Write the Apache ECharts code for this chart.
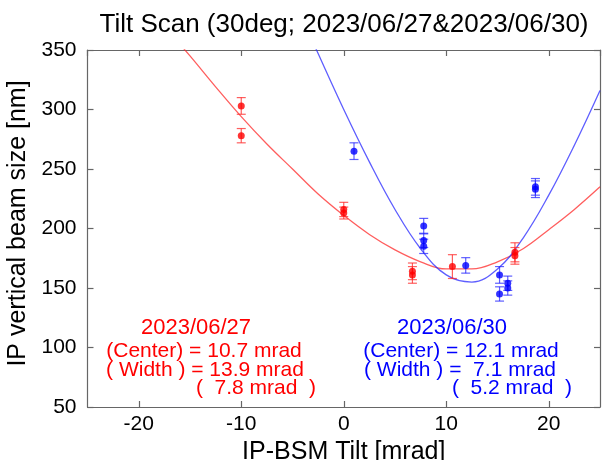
<!DOCTYPE html>
<html>
<head>
<meta charset="utf-8">
<script src="https://cdn.jsdelivr.net/npm/echarts@6/dist/echarts.min.js"></script>
<style>
html,body{margin:0;padding:0;background:#fff;}
#chart{width:602px;height:460px;}
</style>
</head>
<body>
<div id="chart"></div>
<script>
// ---- data ----
const titleText = 'Tilt Scan (30deg; 2023/06/27&2023/06/30)';
const xAxisTitle = 'IP-BSM Tilt [mrad]';
const yAxisTitle = 'IP vertical beam size [nm]';

// 2023/06/27 (red) measurements
const redX   = [-10, -10, 0, 0, 6.7, 6.7, 10.6, 16.7, 16.7];
const redY   = [303, 278, 216, 213, 164, 161, 168, 180, 177];
const redErr = [7, 6, 6, 5, 7, 7, 10, 8, 7];

// 2023/06/30 (blue) measurements
const blueX   = [1.0, 7.8, 7.8, 7.8, 11.9, 15.2, 15.2, 16.0, 16.0, 18.7, 18.7];
const blueY   = [265, 202, 190, 185, 169, 161, 145, 154, 150, 235, 233];
const blueErr = [7, 6.5, 6, 6, 6.5, 7, 6, 6, 6, 7, 7];

// fit curves
const redFitX  = [-17.5, -15, -12.5, -10, -7.5, -5, -2.5, 0, 2.5, 5, 7.5, 10, 12.5, 15, 17.5, 20, 22.5, 25];
const redFitY  = [370, 345, 319, 294, 271, 250, 229, 211, 195, 182, 172, 166, 166, 172, 183, 199, 216, 235];
const blueFitX = [-5, -2.5, 0, 2.5, 5, 7.5, 10, 12.5, 15, 17.5, 20, 22.5, 25];
const blueFitY = [395, 347, 300, 256, 216, 183, 161, 155, 166, 192, 228, 270, 316];

// annotation text
const redNotes  = ['2023/06/27', '(Center) = 10.7 mrad', '( Width ) = 13.9 mrad', '(  7.8 mrad  )'];
const blueNotes = ['2023/06/30', '(Center) = 12.1 mrad', '( Width ) =  7.1 mrad', '(  5.2 mrad  )'];

const xTicks = [-20, -10, 0, 10, 20];

// ---- chart ----
const FONT = '"Liberation Sans", Arial, Helvetica, sans-serif';
const RED = '#ff0000', RED_L = 'rgba(255,40,40,0.75)';
const BLUE = '#0000ff', BLUE_L = 'rgba(40,40,255,0.75)';
const AX = '#666';

function zip(a, b) { return a.map((v, i) => [v, b[i]]); }
function errData(x, y, e) { return x.map((v, i) => [v, y[i], e[i]]); }

function errRender(color) {
  return function (params, api) {
    const x = api.value(0), y = api.value(1), e = api.value(2);
    const lo = api.coord([x, y - e]);
    const hi = api.coord([x, y + e]);
    const w = 4.5;
    const st = { stroke: color, lineWidth: 1.2 };
    return {
      type: 'group',
      children: [
        { type: 'line', shape: { x1: lo[0], y1: lo[1], x2: hi[0], y2: hi[1] }, style: st },
        { type: 'line', shape: { x1: lo[0] - w, y1: lo[1], x2: lo[0] + w, y2: lo[1] }, style: st },
        { type: 'line', shape: { x1: hi[0] - w, y1: hi[1], x2: hi[0] + w, y2: hi[1] }, style: st }
      ]
    };
  };
}

function noteTexts(lines, centers, ys, color, sizes) {
  return lines.map((t, i) => ({
    type: 'text',
    x: centers[i], y: ys[i],
    style: {
      text: t, fill: color, fontSize: sizes[i], fontFamily: FONT,
      align: 'center', verticalAlign: 'middle'
    }
  }));
}

const noteYs = [328, 351, 370, 388];
const noteSizes = [22, 21, 21, 21];

const chart = echarts.init(document.getElementById('chart'), null, { renderer: 'canvas' });

const frameAxisX = (pos) => ({
  type: 'value', position: pos, min: -25, max: 25,
  axisLine: { show: true, onZero: false, lineStyle: { color: AX, width: 1.2 } },
  axisTick: { show: true, inside: true, length: 6, lineStyle: { color: AX, width: 1.2 } },
  splitLine: { show: false },
  axisLabel: {
    show: pos === 'bottom', margin: 7, color: '#000', fontSize: 21, fontFamily: FONT,
    showMinLabel: false, showMaxLabel: false,
    formatter: (v) => xTicks.indexOf(v) >= 0 ? String(v) : ''
  }
});

const frameAxisY = (pos) => ({
  type: 'value', position: pos, min: 50, max: 350, interval: 50,
  axisLine: { show: true, onZero: false, lineStyle: { color: AX, width: 1.2 } },
  axisTick: { show: true, inside: true, length: 6, lineStyle: { color: AX, width: 1.2 } },
  splitLine: { show: false },
  axisLabel: { show: pos === 'left', margin: 11, color: '#000', fontSize: 21, fontFamily: FONT }
});

const xBottom = frameAxisX('bottom');
xBottom.name = xAxisTitle;
xBottom.nameLocation = 'middle';
xBottom.nameGap = 31;
xBottom.nameTextStyle = { color: '#000', fontSize: 25, fontFamily: FONT };

const yLeft = frameAxisY('left');
yLeft.name = yAxisTitle;
yLeft.nameLocation = 'middle';
yLeft.nameGap = 52;
yLeft.nameTextStyle = { color: '#000', fontSize: 25, fontFamily: FONT, padding: [0, 0, 0, 10] };

const option = {
  animation: false,
  backgroundColor: '#fff',
  title: {
    text: titleText, left: 344, top: 12, padding: 0, textAlign: 'center',
    textStyle: { color: '#000', fontSize: 26, fontWeight: 'normal', fontFamily: FONT }
  },
  grid: { left: 87.5, right: 2, top: 50, bottom: 53, containLabel: false, outerBoundsMode: 'none' },
  xAxis: [xBottom, frameAxisX('top')],
  yAxis: [yLeft, frameAxisY('right')],
  series: [
    {
      name: 'fit 06/27', type: 'line', data: zip(redFitX, redFitY), smooth: 0.4,
      showSymbol: false, clip: true, lineStyle: { color: RED_L, width: 1.3 }, z: 2
    },
    {
      name: 'fit 06/30', type: 'line', data: zip(blueFitX, blueFitY), smooth: 0.4,
      showSymbol: false, clip: true, lineStyle: { color: BLUE_L, width: 1.3 }, z: 2
    },
    {
      name: 'err 06/27', type: 'custom', renderItem: errRender(RED_L),
      data: errData(redX, redY, redErr), encode: { x: 0, y: 1 }, z: 3
    },
    {
      name: 'err 06/30', type: 'custom', renderItem: errRender(BLUE_L),
      data: errData(blueX, blueY, blueErr), encode: { x: 0, y: 1 }, z: 3
    },
    {
      name: '2023/06/27', type: 'scatter', data: zip(redX, redY), symbolSize: 7,
      itemStyle: { color: RED }, z: 4
    },
    {
      name: '2023/06/30', type: 'scatter', data: zip(blueX, blueY), symbolSize: 7,
      itemStyle: { color: BLUE }, z: 4
    }
  ],
  graphic: [].concat(
    noteTexts(redNotes, [196, 204, 205, 256], noteYs, RED, noteSizes),
    noteTexts(blueNotes, [452, 461, 460, 512], noteYs, BLUE, noteSizes)
  )
};

chart.setOption(option);
</script>
</body>
</html>
